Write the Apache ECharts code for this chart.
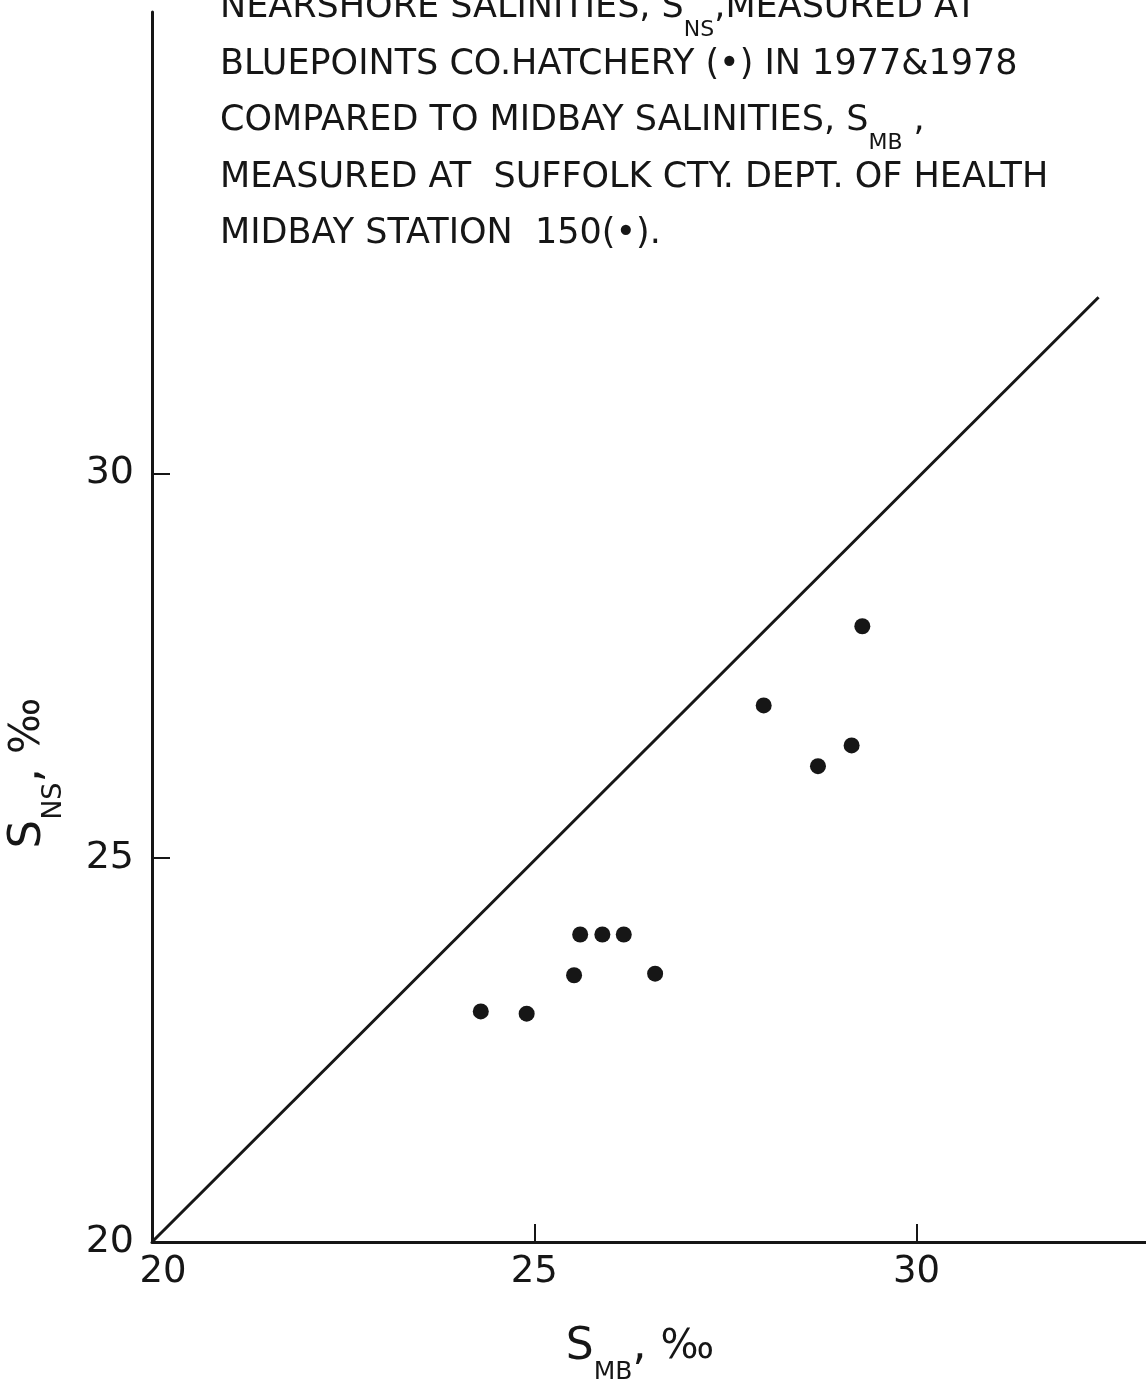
<!DOCTYPE html>
<html>
<head>
<meta charset="utf-8">
<script src="https://cdn.jsdelivr.net/npm/echarts@6/dist/echarts.min.js"></script>
<style>
  html, body { margin: 0; padding: 0; background: #fff; }
  #chart { width: 1146px; height: 1388px; }
</style>
</head>
<body>
<div id="chart"></div>
<script>
// midbay salinity (x) vs nearshore salinity (y), per mille
var smb = [24.30, 24.90, 25.52, 25.60, 25.89, 26.17, 26.58, 28.00, 28.71, 29.15, 29.29];
var sns = [23.00, 22.97, 23.47, 24.00, 24.00, 24.00, 23.49, 26.98, 26.19, 26.46, 28.01];

// 1:1 reference line
var lineX = [20, 32.38];
var lineY = [20, 32.29];

var tickLabels = [20, 25, 30];
var tickMarks = [25, 30];

var titleLines = [
    'NEARSHORE SALINITIES, S{sub|NS},MEASURED AT',
    'BLUEPOINTS CO.HATCHERY (•) IN 1977&1978',
    'COMPARED TO MIDBAY SALINITIES, S{sub|MB} ,',
    'MEASURED AT  SUFFOLK CTY. DEPT. OF HEALTH',
    'MIDBAY STATION  150(•).'
];

var ink = '#161616';
var font = 'DejaVu Sans';

var points = smb.map(function (v, i) { return [v, sns[i]]; });
var oneToOne = lineX.map(function (v, i) { return [v, lineY[i]]; });

// one text element per title line so the subscripts can drop low enough
var titleGraphics = titleLines.map(function (t, i) {
    return {
        type: 'text',
        x: 220,
        y: 8 + 56.5 * i,
        style: {
            text: t,
            fill: ink,
            fontSize: 35,
            fontFamily: font,
            lineHeight: 90,
            align: 'left',
            verticalAlign: 'middle',
            rich: {
                sub: { fill: ink, fontSize: 22, fontFamily: font, lineHeight: 26, padding: [44, 0, 0, 0] }
            }
        }
    };
});

var chart = echarts.init(document.getElementById('chart'));

var option = {
    backgroundColor: '#fff',
    animation: false,
    grid: {
        left: 152,
        right: 0,
        top: 12,
        bottom: 146,
        containLabel: false,
        outerBoundsMode: 'none'
    },
    xAxis: {
        type: 'value',
        min: 20,
        max: 33,
        splitLine: { show: false },
        axisLine: { lineStyle: { color: ink, width: 3 } },
        axisTick: {
            inside: true,
            length: 18,
            customValues: tickMarks,
            lineStyle: { color: ink, width: 2 }
        },
        axisLabel: {
            customValues: tickLabels,
            margin: 12,
            fontSize: 37,
            fontFamily: font,
            color: ink,
            formatter: function (v) {
                return v === 20 ? '{m|20}' : String(v);
            },
            rich: {
                m: { fontSize: 37, fontFamily: font, color: ink, padding: [0, 0, 0, 22] }
            }
        }
    },
    yAxis: {
        type: 'value',
        min: 20,
        max: 36,
        splitLine: { show: false },
        axisLine: { lineStyle: { color: ink, width: 3 } },
        axisTick: {
            inside: true,
            length: 18,
            customValues: tickMarks,
            lineStyle: { color: ink, width: 2 }
        },
        axisLabel: {
            customValues: tickLabels,
            margin: 18,
            fontSize: 38,
            fontFamily: font,
            color: ink
        }
    },
    graphic: titleGraphics.concat([
        {
            type: 'text',
            x: 640,
            y: 1348,
            style: {
                text: 'S{sub|MB}, {pm|‰}',
                fill: ink,
                fontSize: 44,
                fontFamily: font,
                lineHeight: 90,
                align: 'center',
                verticalAlign: 'middle',
                rich: {
                    sub: { fill: ink, fontSize: 25, fontFamily: font, lineHeight: 30, padding: [48, 0, 0, 0] },
                    pm: { fill: ink, fontSize: 40, fontFamily: font, lineHeight: 90 }
                }
            }
        },
        {
            type: 'text',
            x: 28,
            y: 773,
            rotation: Math.PI / 2,
            style: {
                text: 'S{sub|NS}, {pm|‰}',
                fill: ink,
                fontSize: 45,
                fontFamily: font,
                lineHeight: 90,
                align: 'center',
                verticalAlign: 'middle',
                rich: {
                    sub: { fill: ink, fontSize: 27, fontFamily: font, lineHeight: 32, padding: [52, 0, 0, 0] },
                    pm: { fill: ink, fontSize: 42, fontFamily: font, lineHeight: 90 }
                }
            }
        }
    ]),
    series: [
        {
            name: '1:1',
            type: 'line',
            data: oneToOne,
            symbol: 'none',
            lineStyle: { color: ink, width: 3 },
            z: 2
        },
        {
            name: 'Salinity',
            type: 'scatter',
            data: points,
            symbol: 'circle',
            symbolSize: 16,
            itemStyle: { color: ink, opacity: 1 },
            z: 3
        }
    ]
};

chart.setOption(option);
</script>
</body>
</html>
